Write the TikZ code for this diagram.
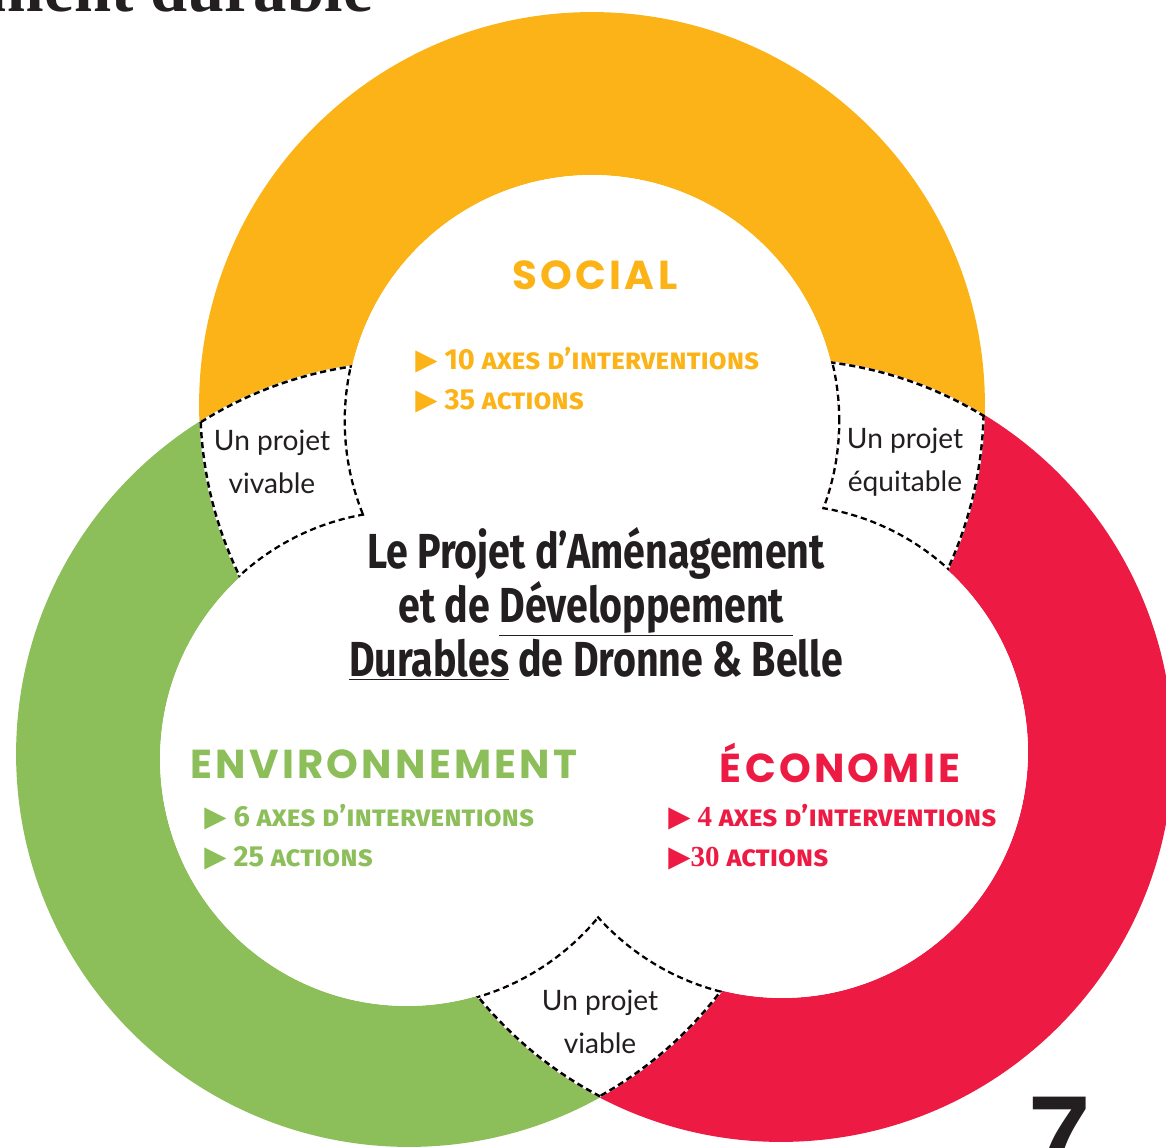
\documentclass[tikz,border=0pt]{standalone}
\usepackage{fontspec}
\setmainfont{Fira Sans}
\newfontfamily\titlefont[FakeStretch=0.8]{Fira Sans}
\newfontfamily\headfont[LetterSpace=8]{Poppins}
\newfontfamily\handfont{Lato}
\newfontfamily\symfont{DejaVu Sans}
\newfontfamily\timesfont{Liberation Serif}
\newfontfamily\arialfont{Liberation Sans}
\definecolor{socialcol}{HTML}{FBB317}
\definecolor{envcol}{HTML}{8CBE59}
\definecolor{ecocol}{HTML}{ED1B43}
\definecolor{inkcol}{HTML}{231F20}
\newcommand{\tri}{{\symfont ▶}}
\tikzset{
  cut/.style={draw=black, line width=2.8pt, dash pattern=on 3.5pt off 2.2pt},
  head/.style={font=\headfont\bfseries\fontsize{23}{23}\selectfont},
  item/.style={font=\bfseries\fontsize{16.5}{22.7}\selectfont, align=left, anchor=west, inner sep=0pt},
  hand/.style={font=\handfont\fontsize{16}{24.4}\selectfont, align=center, text=inkcol},
  title/.style={font=\titlefont\bfseries\fontsize{28}{30.6}\selectfont, align=center, text=inkcol},
}
\begin{document}
\begin{tikzpicture}[x=0.02cm,y=-0.02cm]
\useasboundingbox (0,0) rectangle (1166,1148);
\clip (0,0) rectangle (1166,1148);
% ring centres
\coordinate (yo) at (592,405);
\coordinate (yi) at (592,421);
\coordinate (go) at (409,754);
\coordinate (gi) at (407,759);
\coordinate (ro) at (781,750);
\coordinate (ri) at (782,752);
% the three rings
\fill[socialcol, even odd rule] (yo) circle[radius=7.86cm] (yi) circle[radius=4.92cm];
\fill[envcol, even odd rule] (go) circle[radius=7.86cm] (gi) circle[radius=4.94cm];
\fill[ecocol, even odd rule] (ro) circle[radius=7.84cm] (ri) circle[radius=4.92cm];
% overlaps: vivable
\begin{scope}[even odd rule]
\clip (yo) circle[radius=7.86cm] (yi) circle[radius=4.92cm];
\clip (go) circle[radius=7.86cm] (gi) circle[radius=4.94cm];
\fill[white] (0,0) rectangle (1166,1148);
\draw[cut] (yo) circle[radius=7.86cm] (yi) circle[radius=4.92cm];
\draw[cut] (go) circle[radius=7.86cm] (gi) circle[radius=4.94cm];
\end{scope}
% overlaps: equitable
\begin{scope}[even odd rule]
\clip (yo) circle[radius=7.86cm] (yi) circle[radius=4.92cm];
\clip (ro) circle[radius=7.84cm] (ri) circle[radius=4.92cm];
\fill[white] (0,0) rectangle (1166,1148);
\draw[cut] (yo) circle[radius=7.86cm] (yi) circle[radius=4.92cm];
\draw[cut] (ro) circle[radius=7.84cm] (ri) circle[radius=4.92cm];
\end{scope}
% overlaps: viable
\begin{scope}[even odd rule]
\clip (go) circle[radius=7.86cm] (gi) circle[radius=4.94cm];
\clip (ro) circle[radius=7.84cm] (ri) circle[radius=4.92cm];
\fill[white] (0,0) rectangle (1166,1148);
\draw[cut] (go) circle[radius=7.86cm] (gi) circle[radius=4.94cm];
\draw[cut] (ro) circle[radius=7.84cm] (ri) circle[radius=4.92cm];
\end{scope}
% white centre
\fill[white] (yi) circle[radius=4.92cm] (gi) circle[radius=4.94cm] (ri) circle[radius=4.92cm];

\node[head, text=socialcol] (social) at (595,275) {SOCIAL};
\node[item, text=socialcol] (socialitems) at (415,380) {\tri\ 10 \textsc{axes d’interventions}\\\tri\ 35 \textsc{actions}};
\node[head, text=envcol] (env) at (384,764) {ENVIRONNEMENT};
\node[item, text=envcol] (envitems) at (204,837) {\tri\ 6 \textsc{axes d’interventions}\\\tri\ 25 \textsc{actions}};
\node[head, text=ecocol] (eco) at (840,763) {ÉCONOMIE};
\node[item, text=ecocol] (ecoitems) at (668,837) {\tri\ {\timesfont 4} \textsc{axes d’interventions}\\\tri{\timesfont 30} \textsc{actions}};

\node[title] (padd) at (596,604) {Le Projet d’Aménagement\\et de \underline{Développement\ }\\\underline{Durables} de Dronne \& Belle};

\node[hand] (vivable) at (272,462) {Un projet\\vivable};
\node[hand] (equitable) at (905,462) {Un projet\\équitable};
\node[hand] (viable) at (600,1022) {Un projet\\viable};

\node[font=\timesfont\bfseries\fontsize{38}{38}\selectfont, text=inkcol, anchor=base east, inner sep=0pt] (heading) at (373,12) {ment durable};
\node[font=\arialfont\bfseries\fontsize{64}{64}\selectfont, text=inkcol, anchor=base west, inner sep=0pt] (pagenum) at (1028,1174) {7};
\end{tikzpicture}
\end{document}
